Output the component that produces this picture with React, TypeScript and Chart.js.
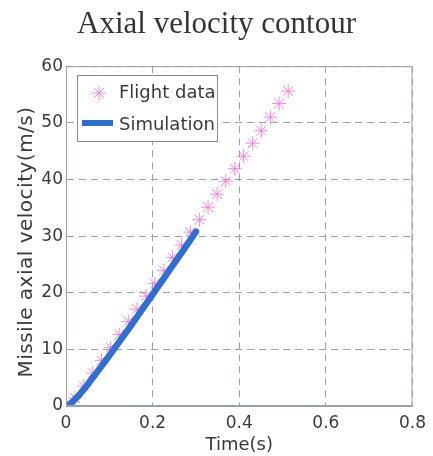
import React, { useEffect, useRef } from "react";
import { Chart, registerables } from "chart.js";

Chart.register(...registerables);

const chartTitle = "Axial velocity contour";
const xAxisTitle = "Time(s)";
const yAxisTitle = "Missile axial velocity(m/s)";
const legendLabels = ["Flight data", "Simulation"];

const flightTime = [0, 0.021, 0.041, 0.062, 0.082, 0.103, 0.123, 0.144, 0.164, 0.185, 0.205, 0.226, 0.246, 0.267, 0.287, 0.308, 0.328, 0.349, 0.369, 0.39, 0.41, 0.431, 0.451, 0.472, 0.492, 0.513];
const flightVel = [0, 1.4, 3.5, 5.8, 8.0, 10.3, 12.6, 14.9, 17.1, 19.4, 21.6, 23.9, 26.2, 28.4, 30.7, 32.9, 35.1, 37.4, 39.7, 41.9, 44.1, 46.4, 48.6, 51.0, 53.4, 55.6];

const simTime = [0, 0.01, 0.02, 0.03, 0.05, 0.07, 0.1, 0.12, 0.15, 0.18, 0.21, 0.24, 0.27, 0.3];
const simVel = [0, 0.4, 1.1, 1.9, 3.8, 5.8, 8.9, 11.0, 14.2, 17.5, 20.8, 24.1, 27.4, 30.8];

const xTicks = [0, 0.2, 0.4, 0.6, 0.8];
const yTicks = [0, 10, 20, 30, 40, 50, 60];

const PINK = "rgba(255,110,215,0.85)";
const BLUE = "#2f6fd4";
const GRID = "#98a0b4";
const TEXT = "#3a3a3a";
const FONT = "'DejaVu Sans', sans-serif";

function drawStar(ctx: CanvasRenderingContext2D, x: number, y: number, r: number) {
  ctx.beginPath();
  ctx.moveTo(x - r, y);
  ctx.lineTo(x + r, y);
  ctx.moveTo(x, y - r);
  ctx.lineTo(x, y + r);
  const d = r * 0.7071;
  ctx.moveTo(x - d, y - d);
  ctx.lineTo(x + d, y + d);
  ctx.moveTo(x - d, y + d);
  ctx.lineTo(x + d, y - d);
  ctx.stroke();
}

const decorPlugin = {
  id: "decor",
  afterDraw(chart: any) {
    const ctx = chart.ctx as CanvasRenderingContext2D;
    const a = chart.chartArea;
    ctx.save();
    // plot box
    ctx.strokeStyle = GRID;
    ctx.lineWidth = 1;
    ctx.setLineDash([]);
    ctx.strokeRect(a.left + 0.5, a.top + 0.5, a.right - a.left - 1, a.bottom - a.top - 1);

    // y axis title
    ctx.save();
    ctx.translate(27, 242);
    ctx.rotate(-Math.PI / 2);
    ctx.fillStyle = TEXT;
    ctx.font = `20px ${FONT}`;
    (ctx as any).letterSpacing = "0.5px";
    ctx.textAlign = "center";
    ctx.textBaseline = "middle";
    ctx.fillText(yAxisTitle, 0, 0);
    ctx.restore();

    // legend
    const lx = 77, ly = 75, lw = 140, lh = 66;
    ctx.fillStyle = "#ffffff";
    ctx.fillRect(lx, ly, lw, lh);
    ctx.strokeStyle = "#8a8a96";
    ctx.lineWidth = 1;
    ctx.strokeRect(lx + 0.5, ly + 0.5, lw, lh);
    ctx.strokeStyle = PINK;
    ctx.lineWidth = 1;
    drawStar(ctx, 99, 93, 7);
    ctx.strokeStyle = BLUE;
    ctx.lineWidth = 6;
    ctx.beginPath();
    ctx.moveTo(82, 123);
    ctx.lineTo(113, 123);
    ctx.stroke();
    ctx.fillStyle = TEXT;
    ctx.font = `18px ${FONT}`;
    ctx.textAlign = "left";
    ctx.textBaseline = "middle";
    ctx.fillText(legendLabels[0], 119, 93);
    ctx.fillText(legendLabels[1], 119, 125);
    ctx.restore();
  },
};

export default function App() {
  const canvasRef = useRef<HTMLCanvasElement | null>(null);

  useEffect(() => {
    document.body.style.margin = "0";
    const canvas = canvasRef.current;
    if (!canvas) return;
    const chart = new Chart(canvas, {
      type: "scatter",
      data: {
        datasets: [
          {
            label: legendLabels[1],
            data: simTime.map((t, i) => ({ x: t, y: simVel[i] })),
            showLine: true,
            borderColor: BLUE,
            backgroundColor: BLUE,
            borderWidth: 6.5,
            pointRadius: 0,
            borderCapStyle: "round",
            borderJoinStyle: "round",
            tension: 0.2,
            order: 0,
          },
          {
            label: legendLabels[0],
            data: flightTime.map((t, i) => ({ x: t, y: flightVel[i] })),
            showLine: false,
            pointStyle: "star",
            pointRadius: 7,
            borderColor: PINK,
            backgroundColor: PINK,
            pointBorderWidth: 1,
            order: 1,
          },
        ],
      },
      options: {
        responsive: false,
        animation: false,
        layout: { padding: { left: 0, right: 0, top: 0, bottom: 0 } },
        plugins: {
          legend: { display: false },
          tooltip: { enabled: false },
          title: {
            display: true,
            text: chartTitle,
            color: "#333338",
            font: { family: "'Liberation Serif', serif", size: 31, weight: "normal" },
            padding: { top: 6, bottom: 23 },
          },
        },
        scales: {
          x: {
            type: "linear",
            min: 0,
            max: 0.8,
            afterFit: (s: any) => { s.height = 50; },
            afterBuildTicks: (s: any) => { s.ticks = xTicks.map((v) => ({ value: v })); },
            ticks: {
              color: TEXT,
              font: { family: FONT, size: 17 },
              padding: 7,
              maxRotation: 0,
              callback: (v: any) => String(v),
            },
            grid: { color: GRID, drawTicks: false, lineWidth: 1 },
            border: { display: true, color: GRID, dash: [7, 5] },
            title: {
              display: true,
              text: xAxisTitle,
              color: TEXT,
              font: { family: FONT, size: 18 },
              padding: { top: 0, bottom: 0 },
            },
          },
          y: {
            type: "linear",
            min: 0,
            max: 60,
            afterFit: (s: any) => { s.width = 66; },
            afterBuildTicks: (s: any) => { s.ticks = yTicks.map((v) => ({ value: v })); },
            ticks: {
              color: TEXT,
              font: { family: FONT, size: 17 },
              padding: 3,
              callback: (v: any) => String(v),
            },
            grid: { color: GRID, drawTicks: false, lineWidth: 1 },
            border: { display: true, color: GRID, dash: [7, 5] },
          },
          yRight: {
            type: "linear",
            position: "right",
            min: 0,
            max: 60,
            afterFit: (s: any) => { s.width = 19; },
            ticks: { display: false },
            grid: { display: false, drawTicks: false },
            border: { display: false },
          },
        },
      },
      plugins: [decorPlugin],
    } as any);
    return () => chart.destroy();
  }, []);

  return (
    <div style={{ width: 433, height: 456, background: "#ffffff" }}>
      <canvas ref={canvasRef} width={433} height={456} />
    </div>
  );
}
